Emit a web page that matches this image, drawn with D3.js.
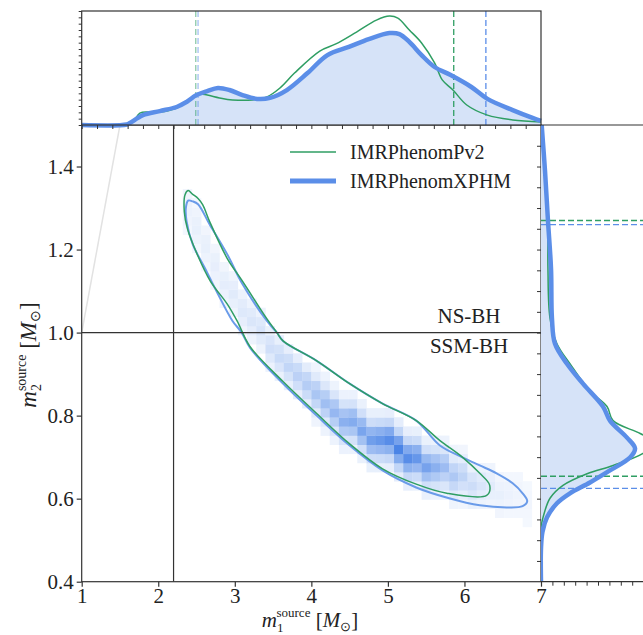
<!DOCTYPE html>
<html>
<head>
<meta charset="utf-8">
<script src="https://cdn.jsdelivr.net/npm/d3@7"></script>
<style>
  body { margin: 0; background: #fff; }
  svg { display: block; font-family: "Liberation Serif", "Times New Roman", serif; }
</style>
</head>
<body>
<div id="chart"></div>
<script>
// marginal of m1 (source frame), [m1, density]
var pv2M1 = [[1.0,0],[1.59,0.002],[1.67,0.012],[1.76,0.047],[1.89,0.051],[2.02,0.051],[2.24,0.067],[2.41,0.099],[2.54,0.122],[2.64,0.118],[2.80,0.107],[2.97,0.099],[3.23,0.099],[3.42,0.111],[3.59,0.146],[3.78,0.205],[4.11,0.292],[4.32,0.320],[4.59,0.367],[4.85,0.414],[5.02,0.430],[5.13,0.422],[5.28,0.375],[5.44,0.324],[5.61,0.245],[5.71,0.178],[5.85,0.138],[6.03,0.079],[6.30,0.039],[6.63,0.020],[7.0,0.012]];
var xphmM1 = [[1.0,0],[1.59,0.002],[1.63,0.008],[1.80,0.039],[2.02,0.055],[2.24,0.071],[2.37,0.091],[2.50,0.118],[2.64,0.134],[2.78,0.146],[2.93,0.138],[3.10,0.118],[3.29,0.103],[3.46,0.107],[3.68,0.138],[3.95,0.205],[4.21,0.276],[4.49,0.308],[4.75,0.339],[5.02,0.363],[5.15,0.359],[5.28,0.328],[5.44,0.276],[5.61,0.229],[5.82,0.197],[6.09,0.150],[6.30,0.103],[6.63,0.059],[6.89,0.028],[7.0,0.016]];

// marginal of m2, [m2, density]
var pv2M2 = [[1.5,0.006],[1.39,0.035],[1.27,0.060],[1.153,0.061],[1.035,0.079],[0.973,0.140],[0.925,0.254],[0.859,0.430],[0.822,0.579],[0.788,0.632],[0.757,0.87],[0.735,1.0],[0.709,0.895],[0.68,0.632],[0.66,0.404],[0.632,0.193],[0.601,0.079],[0.555,0.018],[0.53,0],[0.4,0]];
var xphmM2 = [[1.5,0.006],[1.39,0.035],[1.27,0.061],[1.153,0.088],[1.035,0.096],[0.973,0.123],[0.925,0.228],[0.877,0.368],[0.822,0.544],[0.788,0.605],[0.747,0.754],[0.721,0.825],[0.699,0.781],[0.668,0.605],[0.639,0.430],[0.613,0.254],[0.589,0.140],[0.555,0.053],[0.52,0.013],[0.48,0],[0.4,0]];

// 90% credible bounds
var pv2BoundsM1 = [2.49, 5.86];
var xphmBoundsM1 = [2.52, 6.28];
var pv2BoundsM2 = [0.654, 1.270];
var xphmBoundsM2 = [0.625, 1.260];

// 90% contours in (m1, m2)
var pv2Contour = [[2.39,1.342],[2.45,1.333],[2.52,1.323],[2.58,1.308],[2.67,1.268],[2.90,1.179],[3.10,1.124],[3.42,1.033],[3.55,1.0],[3.63,0.98],[4.07,0.932],[4.50,0.877],[4.93,0.829],[5.37,0.788],[5.68,0.74],[5.98,0.699],[6.20,0.661],[6.33,0.632],[6.29,0.608],[5.77,0.613],[5.37,0.635],[4.93,0.672],[4.50,0.732],[4.07,0.805],[3.63,0.882],[3.20,0.966],[3.03,1.028],[2.90,1.069],[2.68,1.124],[2.51,1.188],[2.38,1.251],[2.34,1.292],[2.35,1.332]];
var xphmContour = [[2.39,1.318],[2.45,1.316],[2.52,1.309],[2.67,1.261],[2.90,1.189],[3.10,1.117],[3.42,1.028],[3.55,1.0],[3.63,0.98],[4.07,0.932],[4.50,0.877],[4.93,0.829],[5.37,0.788],[5.68,0.728],[5.98,0.699],[6.20,0.680],[6.42,0.661],[6.63,0.637],[6.76,0.613],[6.82,0.594],[6.76,0.582],[6.55,0.579],[6.20,0.584],[5.80,0.601],[5.37,0.627],[4.93,0.668],[4.50,0.728],[4.07,0.80],[3.63,0.877],[3.20,0.963],[3.09,1.0],[2.97,1.028],[2.76,1.1],[2.63,1.148],[2.45,1.213],[2.37,1.268],[2.36,1.299]];

// 2d histogram of XPHM samples: [m1 bin, first m2 bin, shades]
var binM1 = 0.12, binM2 = 0.022;
var heatCols = [
  [11,38,[0.02,0.04,0.06,0.06,0.03]],
  [12,36,[0.02,0.05,0.08,0.07,0.04,0.02]],
  [13,34,[0.02,0.05,0.08,0.07,0.03]],
  [14,32,[0.03,0.06,0.09,0.07,0.03]],
  [15,30,[0.03,0.06,0.10,0.08,0.03]],
  [16,29,[0.04,0.08,0.12,0.09,0.04]],
  [17,27,[0.04,0.09,0.14,0.11,0.05]],
  [18,26,[0.05,0.10,0.16,0.12,0.05]],
  [19,25,[0.05,0.12,0.18,0.14,0.06]],
  [20,23,[0.06,0.14,0.22,0.17,0.07]],
  [21,22,[0.07,0.17,0.26,0.20,0.08]],
  [22,21,[0.08,0.19,0.30,0.23,0.09]],
  [23,20,[0.09,0.22,0.34,0.26,0.10]],
  [24,19,[0.10,0.25,0.38,0.29,0.11]],
  [25,17,[0.04,0.12,0.29,0.44,0.33,0.13,0.04]],
  [26,16,[0.05,0.14,0.33,0.50,0.37,0.15,0.05]],
  [27,15,[0.05,0.16,0.37,0.56,0.42,0.17,0.05]],
  [28,14,[0.06,0.18,0.41,0.62,0.46,0.19,0.06]],
  [29,14,[0.06,0.20,0.44,0.66,0.50,0.20,0.06]],
  [30,13,[0.07,0.22,0.48,0.72,0.54,0.22,0.07]],
  [31,12,[0.08,0.24,0.52,0.78,0.58,0.24,0.08]],
  [32,12,[0.08,0.25,0.56,0.84,0.62,0.26,0.08]],
  [33,12,[0.09,0.28,0.61,0.92,0.68,0.28,0.09]],
  [34,11,[0.10,0.30,0.66,1.00,0.74,0.30,0.10]],
  [35,10,[0.09,0.28,0.61,0.92,0.68,0.28,0.09]],
  [36,10,[0.08,0.25,0.56,0.84,0.62,0.25,0.08]],
  [37,9,[0.07,0.22,0.49,0.74,0.55,0.22,0.07]],
  [38,9,[0.06,0.19,0.41,0.62,0.46,0.19,0.06]],
  [39,9,[0.05,0.16,0.34,0.52,0.38,0.16,0.05]],
  [40,8,[0.04,0.13,0.28,0.42,0.31,0.13,0.04]],
  [41,8,[0.03,0.10,0.21,0.32,0.24,0.10,0.03]],
  [42,8,[0.07,0.16,0.24,0.18,0.07]],
  [43,8,[0.05,0.11,0.17,0.13,0.05]],
  [44,8,[0.04,0.08,0.12,0.09,0.04]],
  [45,7,[0.03,0.05,0.08,0.06,0.03]],
  [46,7,[0.02,0.04,0.06,0.05,0.02]],
  [47,7,[0.02,0.03,0.04,0.03,0.02]],
  [48,6,[0.01,0.02,0.03,0.02,0.01]]
];

var m1Ticks = [1,2,3,4,5,6,7];
var m2Ticks = [0.4,0.6,0.8,1.0,1.2,1.4];
var nsLimit = 1.0, bhLimit = 2.2;
var equalMass = [[1,1],[1.5,1.5]];
var seriesNames = ["IMRPhenomPv2", "IMRPhenomXPHM"];
var regionLabels = ["NS-BH", "SSM-BH"];

var W = 643, H = 635;
var green = "#2f9e63", blue = "#5b8ee8", blueFill = "#d6e3f8";

var svg = d3.select("#chart").append("svg").attr("width", W).attr("height", H);

var x = d3.scaleLinear().domain([1,7]).range([81.7,541]);
var y = d3.scaleLinear().domain([0.4,1.5]).range([581.7,125]);
var yt = d3.scaleLinear().domain([0,0.45]).range([125,11]);
var xr = d3.scaleLinear().domain([0,1]).range([541,655]);

var defs = svg.append("defs");
defs.append("clipPath").attr("id","mainClip")
  .append("rect").attr("x",x(1)).attr("y",y(1.5)).attr("width",x(7)-x(1)).attr("height",y(0.4)-y(1.5));
defs.append("clipPath").attr("id","rightClip")
  .append("rect").attr("x",xr(0)).attr("y",y(1.5)).attr("width",xr(1)-xr(0)).attr("height",y(0.4)-y(1.5));

// ---- main panel ----
var mainG = svg.append("g").attr("clip-path","url(#mainClip)");
var shade = d3.scaleLinear().domain([0,1]).range(["#f6f9fe","#4a84e6"]);
var cells = [];
heatCols.forEach(function(c) {
  c[2].forEach(function(v, k) { cells.push({i: c[0], j: c[1]+k, v: v}); });
});
mainG.selectAll("rect.cell").data(cells).enter().append("rect").attr("class","cell")
  .attr("x", d => x(1 + d.i*binM1))
  .attr("y", d => y(0.4 + (d.j+1)*binM2))
  .attr("width", d => x(1 + (d.i+1)*binM1) - x(1 + d.i*binM1) + 0.3)
  .attr("height", d => y(0.4 + d.j*binM2) - y(0.4 + (d.j+1)*binM2) + 0.3)
  .attr("fill", d => shade(d.v));

mainG.append("path").datum(equalMass)
  .attr("d", d3.line().x(d => x(d[0])).y(d => y(d[1])))
  .attr("stroke","#e2e2e2").attr("stroke-width",1.5).attr("fill","none");

var contourLine = d3.line().x(d => x(d[0])).y(d => y(d[1])).curve(d3.curveCatmullRomClosed.alpha(0.5));
mainG.append("path").datum(xphmContour).attr("d", contourLine)
  .attr("fill","none").attr("stroke","#6a9be9").attr("stroke-width",2);
mainG.append("path").datum(pv2Contour).attr("d", contourLine)
  .attr("fill","none").attr("stroke",green).attr("stroke-width",1.5);

mainG.append("line").attr("x1",x(1)).attr("x2",x(7)).attr("y1",y(nsLimit)).attr("y2",y(nsLimit))
  .attr("stroke","#333").attr("stroke-width",1.2);
mainG.append("line").attr("x1",x(bhLimit)).attr("x2",x(bhLimit)).attr("y1",y(0.4)).attr("y2",y(1.5))
  .attr("stroke","#333").attr("stroke-width",1.2);

svg.append("text").attr("x",469).attr("y",323).attr("text-anchor","middle")
  .attr("font-size",21).attr("fill","#222").text(regionLabels[0]);
svg.append("text").attr("x",469).attr("y",353).attr("text-anchor","middle")
  .attr("font-size",21).attr("fill","#222").text(regionLabels[1]);

// legend
var leg = svg.append("g");
[[green,1.5],[blue,5]].forEach(function(s, k) {
  var ly = 152 + k*29;
  leg.append("line").attr("x1",290).attr("x2",336).attr("y1",ly).attr("y2",ly)
    .attr("stroke",s[0]).attr("stroke-width",s[1]);
  leg.append("text").attr("x",350).attr("y",ly+7).attr("font-size",20).attr("fill","#222").text(seriesNames[k]);
});

// main frame + axes
svg.append("rect").attr("x",x(1)).attr("y",y(1.5)).attr("width",x(7)-x(1)).attr("height",y(0.4)-y(1.5))
  .attr("fill","none").attr("stroke","#333").attr("stroke-width",1.2);

var xAxis = svg.append("g").attr("transform","translate(0,"+y(0.4)+")")
  .call(d3.axisBottom(x).tickValues(m1Ticks).tickFormat(d3.format("d")).tickSize(5).tickPadding(1));
var yAxis = svg.append("g").attr("transform","translate("+x(1)+",0)")
  .call(d3.axisLeft(y).tickValues(m2Ticks).tickFormat(d3.format(".1f")).tickSize(5).tickPadding(3));
[xAxis, yAxis].forEach(function(a) {
  a.select(".domain").remove();
  a.selectAll(".tick line").attr("stroke","#333").attr("stroke-width",1.2);
  a.selectAll(".tick text").attr("font-family","Liberation Serif, serif").attr("font-size",21).attr("fill","#222");
});

// axis labels (sub- and superscript stacked after m)
function massLabel(t, idx, small) {
  t.append("tspan").attr("font-style","italic").text("m");
  t.append("tspan").attr("font-size",small).attr("dy",5).text(idx);
  t.append("tspan").attr("font-size",small).attr("dx",-7).attr("dy",-15).text("source");
  t.append("tspan").attr("dy",10).text(" [");
  t.append("tspan").attr("font-style","italic").text("M");
  t.append("tspan").attr("font-size",small).attr("dy",4).text("⊙");
  t.append("tspan").attr("dy",-4).text("]");
}
massLabel(svg.append("text").attr("x",310).attr("y",627).attr("text-anchor","middle").attr("font-size",21).attr("fill","#222"), "1", 13);
massLabel(svg.append("text").attr("transform","translate(36,355) rotate(-90)").attr("text-anchor","middle").attr("font-size",23).attr("fill","#222"), "2", 14);

// ---- top marginal ----
var topG = svg.append("g");
topG.append("path").datum(xphmM1)
  .attr("d", d3.area().x(d => x(d[0])).y0(yt(0)).y1(d => yt(d[1])).curve(d3.curveCatmullRom.alpha(0.5)))
  .attr("fill",blueFill);
[[pv2BoundsM1, green], [xphmBoundsM1, blue]].forEach(function(b) {
  b[0].forEach(function(v, k) {
    topG.append("line").attr("x1",x(v)).attr("x2",x(v)).attr("y1",yt(0)).attr("y2",yt(0.45))
      .attr("stroke",b[1]).attr("stroke-width",1.3).attr("stroke-dasharray","6,3")
      .attr("opacity", k == 0 ? 0.55 : 1);
  });
});
topG.append("path").datum(pv2M1)
  .attr("d", d3.line().x(d => x(d[0])).y(d => yt(d[1])).curve(d3.curveCatmullRom.alpha(0.5)))
  .attr("fill","none").attr("stroke",green).attr("stroke-width",1.5);
topG.append("path").datum(xphmM1)
  .attr("d", d3.line().x(d => x(d[0])).y(d => yt(d[1])).curve(d3.curveCatmullRom.alpha(0.5)))
  .attr("fill","none").attr("stroke",blue).attr("stroke-width",4.5);
topG.append("rect").attr("x",x(1)).attr("y",yt(0.45)).attr("width",x(7)-x(1)).attr("height",yt(0)-yt(0.45))
  .attr("fill","none").attr("stroke","#333").attr("stroke-width",1.2);
var tAxL = topG.append("g").attr("transform","translate("+x(1)+",0)")
  .call(d3.axisLeft(yt).tickValues(d3.range(0,0.451,0.025)).tickFormat("").tickSize(3));
var tAxB = topG.append("g").attr("transform","translate(0,"+yt(0)+")")
  .call(d3.axisBottom(x).tickValues(d3.range(1,7.01,0.2)).tickFormat("").tickSize(4));
[tAxL, tAxB].forEach(function(a) {
  a.select(".domain").remove();
  a.selectAll(".tick line").attr("stroke","#333").attr("stroke-width",1);
});

// ---- right marginal ----
var rightG = svg.append("g").attr("clip-path","url(#rightClip)");
rightG.append("path").datum(xphmM2)
  .attr("d", d3.area().y(d => y(d[0])).x0(xr(0)).x1(d => xr(d[1])).curve(d3.curveCatmullRom.alpha(0.5)))
  .attr("fill",blueFill);
[[pv2BoundsM2, green], [xphmBoundsM2, blue]].forEach(function(b) {
  b[0].forEach(function(v) {
    rightG.append("line").attr("x1",xr(0)).attr("x2",xr(1)).attr("y1",y(v)).attr("y2",y(v))
      .attr("stroke",b[1]).attr("stroke-width",1.3).attr("stroke-dasharray","6,3");
  });
});
rightG.append("path").datum(pv2M2)
  .attr("d", d3.line().y(d => y(d[0])).x(d => xr(d[1])).curve(d3.curveCatmullRom.alpha(0.5)))
  .attr("fill","none").attr("stroke",green).attr("stroke-width",1.5);
rightG.append("path").datum(xphmM2)
  .attr("d", d3.line().y(d => y(d[0])).x(d => xr(d[1])).curve(d3.curveCatmullRom.alpha(0.5)))
  .attr("fill","none").attr("stroke",blue).attr("stroke-width",4.5);
svg.append("line").attr("x1",xr(0)).attr("x2",W).attr("y1",y(1.5)).attr("y2",y(1.5)).attr("stroke","#333").attr("stroke-width",1.2);
svg.append("line").attr("x1",xr(0)).attr("x2",W).attr("y1",y(0.4)).attr("y2",y(0.4)).attr("stroke","#333").attr("stroke-width",1.2);
var rAxL = svg.append("g").attr("transform","translate("+xr(0)+",0)")
  .call(d3.axisLeft(y).tickValues(d3.range(0.45,1.5,0.05)).tickFormat("").tickSize(4));
var rAxB = svg.append("g").attr("transform","translate(0,"+y(0.4)+")")
  .call(d3.axisBottom(xr).tickValues(d3.range(0.1,1.01,0.1)).tickFormat("").tickSize(4));
[rAxL, rAxB].forEach(function(a) {
  a.select(".domain").remove();
  a.selectAll(".tick line").attr("stroke","#333").attr("stroke-width",1);
});
</script>
</body>
</html>
